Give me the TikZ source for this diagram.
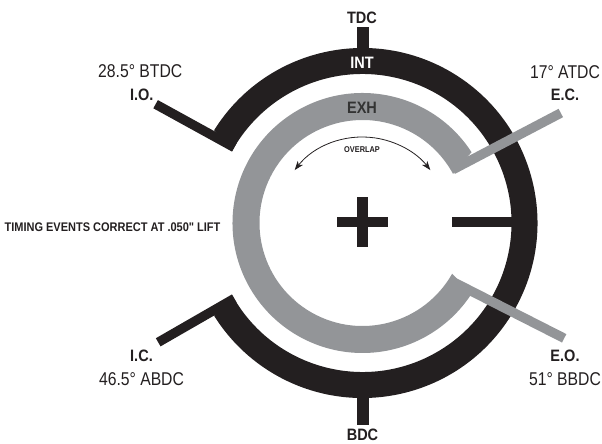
\documentclass[tikz,border=0pt]{standalone}
\usepackage{fontspec}
\usetikzlibrary{arrows.meta,calc}
\newfontfamily\condfont{Liberation Sans}[FakeStretch=0.85]
\newfontfamily\boldcond{Liberation Sans}[FakeStretch=0.88]
\definecolor{inkblack}{HTML}{231F20}
\definecolor{ringgray}{HTML}{939598}
\definecolor{exhtext}{HTML}{333333}
\begin{document}
\begin{tikzpicture}[x=1pt,y=1pt,
  lab/.style={font=\condfont\fontsize{18.5}{18.5}\selectfont, text=inkblack, inner sep=0pt, anchor=base},
  evt/.style={font=\boldcond\bfseries\fontsize{16.5}{16.5}\selectfont, text=inkblack, inner sep=0pt, anchor=base},
  note/.style={font=\boldcond\bfseries\fontsize{12.5}{12.5}\selectfont, text=inkblack, inner sep=0pt, anchor=base},
  tiny/.style={font=\boldcond\bfseries\fontsize{8.4}{8.4}\selectfont, text=inkblack, inner sep=0pt, anchor=base},
  blackline/.style={draw=inkblack, line width=9.4pt},
  grayline/.style={draw=ringgray, line width=9.5pt},
  bar/.style={fill=inkblack}]
\useasboundingbox (0,0) rectangle (602,-444);
\coordinate (C) at (362.5,-223);
% intake ring (black)
\fill[inkblack] ($(C)+(148:175)$) arc[start angle=148,end angle=-148,radius=175]
  -- ($(C)+(-151:149)$) arc[start angle=-151,end angle=151,radius=149] -- cycle;
\fill[bar] (356.5,-27.3) rectangle (368.5,-55);
\fill[bar] (356.5,-392) rectangle (368.5,-425);
\fill[bar] (451.7,-216.7) rectangle (516,-227.3);
\coordinate (io1) at (155.6,-104.2);
\coordinate (io2) at (234.3,-147.5);
\coordinate (ic1) at (158.2,-342.3);
\coordinate (ic2) at (234.3,-298.5);
\draw[blackline] (io1) -- (io2);
\draw[blackline] (ic1) -- (ic2);
% exhaust ring (gray)
\fill[ringgray] ($(C)+(33:130)$) arc[start angle=33,end angle=327,radius=130]
  -- ($(C)+(330.5:103)$) arc[start angle=330.5,end angle=28.5,radius=103] -- cycle;
\coordinate (ec1) at (452.7,-169.7);
\coordinate (ec2) at (560.8,-113);
\coordinate (eo1) at (451.2,-280.9);
\coordinate (eo2) at (564.2,-338.3);
\draw[grayline] (ec1) -- (ec2);
\draw[grayline] (eo1) -- (eo2);
% centre plus
\fill[bar] (357,-197.3) rectangle (368,-246.7);
\fill[bar] (337,-216.7) rectangle (388,-227.3);
% overlap arrow
\draw[inkblack, line width=0.8pt, {Stealth[length=9pt,width=6.5pt,inset=2.5pt]}-{Stealth[length=9pt,width=6.5pt,inset=2.5pt]}]
  ($(C)+(142:86)$) arc[start angle=142,end angle=38,radius=86];
\node[tiny] (ovl) at (362,-152.7) {OVERLAP};
% texts
\node[evt] (tdc) at (362,-23.3) {TDC};
\node[evt] (bdc) at (362.5,-440.3) {BDC};
\node[evt, text=white] (int) at (362,-68.3) {INT};
\node[evt, text=exhtext] (exh) at (362,-113.3) {EXH};
\node[lab] (iodeg) at (140.2,-77.3) {28.5° BTDC};
\node[evt] (io) at (141.7,-100.7) {I.O.};
\node[lab] (ecdeg) at (565,-78.3) {17° ATDC};
\node[evt] (ec) at (565,-100) {E.C.};
\node[evt] (ic) at (141.5,-361.7) {I.C.};
\node[lab] (icdeg) at (141.5,-385) {46.5° ABDC};
\node[evt] (eo) at (565,-361.7) {E.O.};
\node[lab] (eodeg) at (565,-385) {51° BBDC};
\node[note] (timing) at (112.5,-231) {TIMING EVENTS CORRECT AT .050" LIFT};
\end{tikzpicture}
\end{document}
